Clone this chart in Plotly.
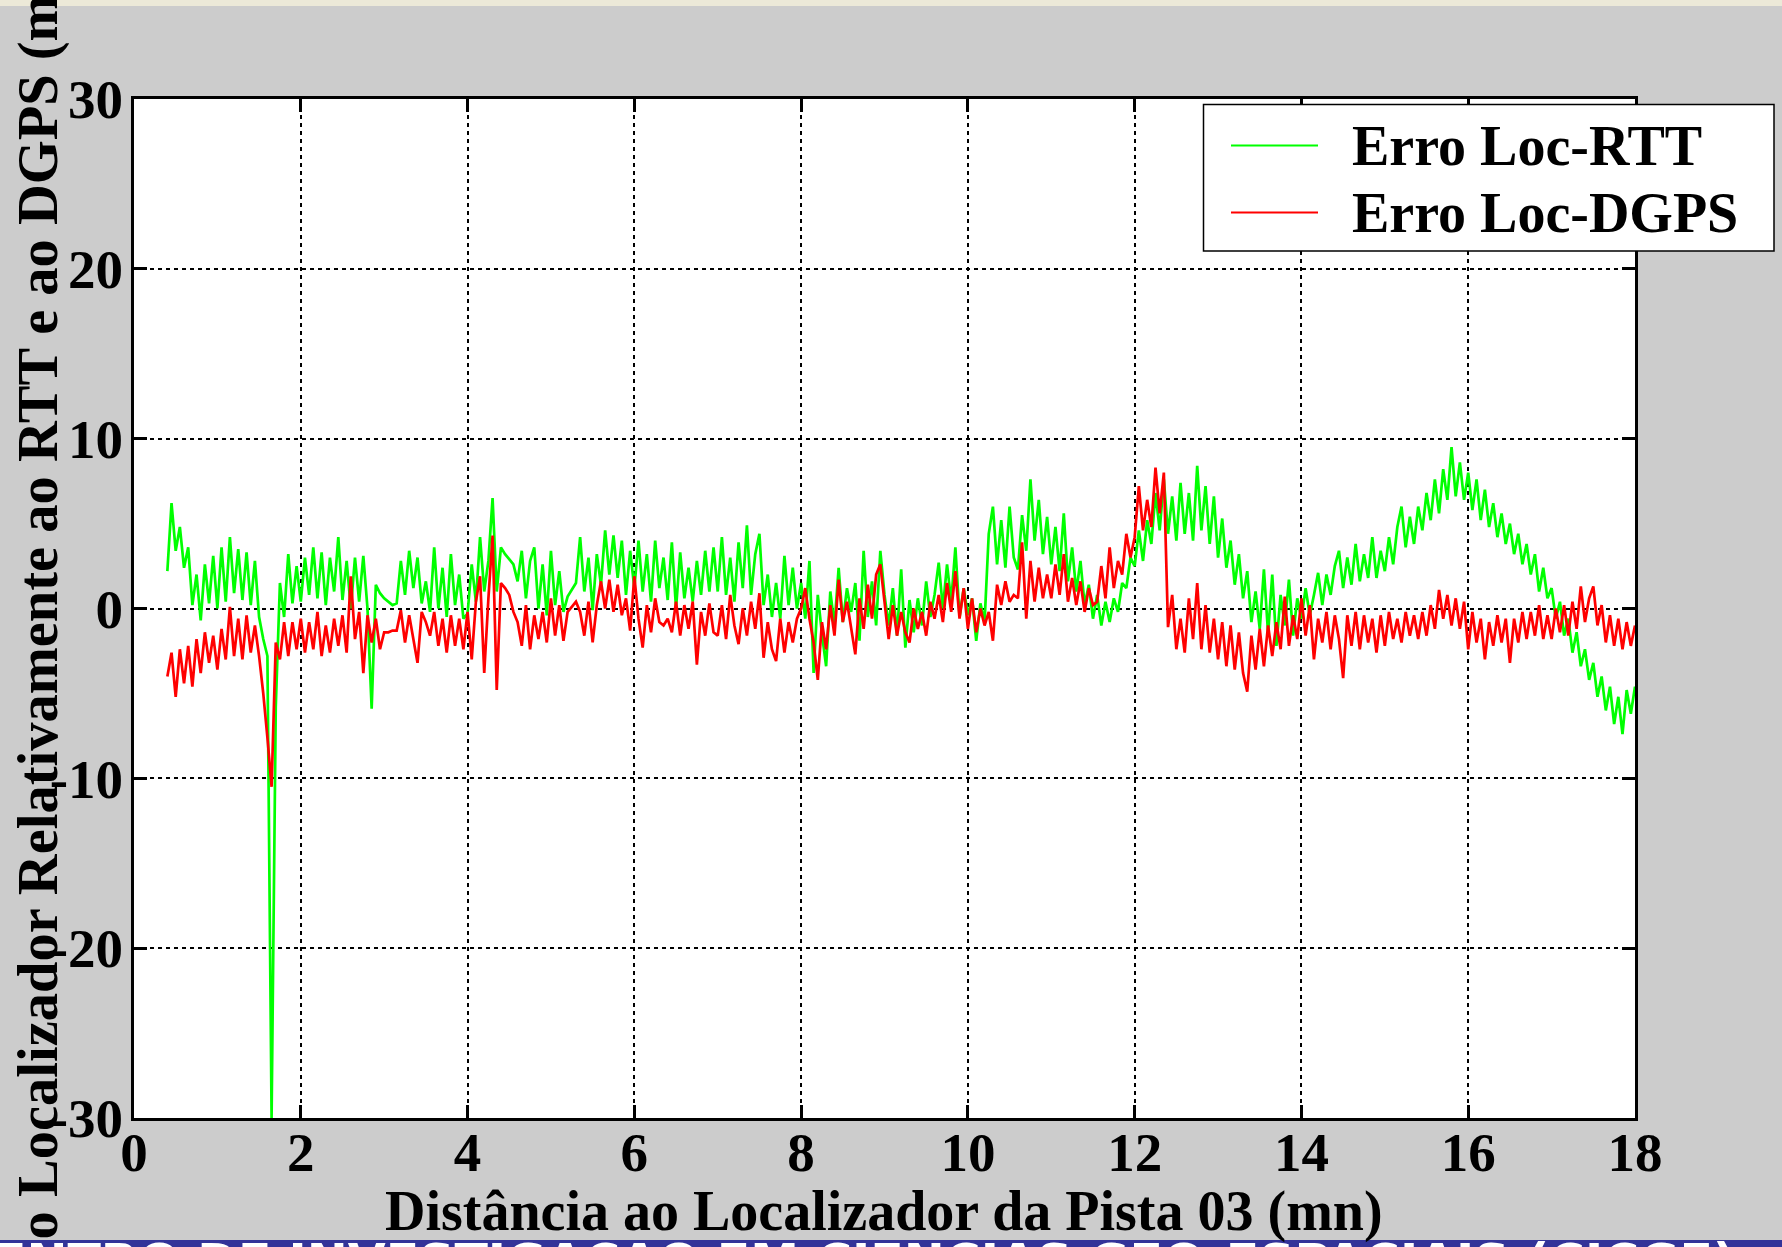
import plotly.graph_objects as go

# ---------------- data ----------------
dist_nm = [
    0.40, 0.45, 0.50, 0.55, 0.60, 0.65, 0.70, 0.75, 0.80, 0.85, 0.90, 0.95,
    1.00, 1.05, 1.10, 1.15, 1.20, 1.25, 1.30, 1.35, 1.40, 1.45, 1.50, 1.55, 1.60, 1.65, 1.70, 1.75, 1.80, 1.85, 1.90, 1.95,
    2.00, 2.05, 2.10, 2.15, 2.20, 2.25, 2.30, 2.35, 2.40, 2.45, 2.50, 2.55, 2.60, 2.65, 2.70, 2.75, 2.80, 2.85, 2.90, 2.95,
    3.00, 3.05, 3.10, 3.15, 3.20, 3.25, 3.30, 3.35, 3.40, 3.45, 3.50, 3.55, 3.60, 3.65, 3.70, 3.75, 3.80, 3.85, 3.90, 3.95,
    4.00, 4.05, 4.10, 4.15, 4.20, 4.25, 4.30, 4.35, 4.40, 4.45, 4.50, 4.55, 4.60, 4.65, 4.70, 4.75, 4.80, 4.85, 4.90, 4.95,
    5.00, 5.05, 5.10, 5.15, 5.20, 5.25, 5.30, 5.35, 5.40, 5.45, 5.50, 5.55, 5.60, 5.65, 5.70, 5.75, 5.80, 5.85, 5.90, 5.95,
    6.00, 6.05, 6.10, 6.15, 6.20, 6.25, 6.30, 6.35, 6.40, 6.45, 6.50, 6.55, 6.60, 6.65, 6.70, 6.75, 6.80, 6.85, 6.90, 6.95,
    7.00, 7.05, 7.10, 7.15, 7.20, 7.25, 7.30, 7.35, 7.40, 7.45, 7.50, 7.55, 7.60, 7.65, 7.70, 7.75, 7.80, 7.85, 7.90, 7.95,
    8.00, 8.05, 8.10, 8.15, 8.20, 8.25, 8.30, 8.35, 8.40, 8.45, 8.50, 8.55, 8.60, 8.65, 8.70, 8.75, 8.80, 8.85, 8.90, 8.95,
    9.00, 9.05, 9.10, 9.15, 9.20, 9.25, 9.30, 9.35, 9.40, 9.45, 9.50, 9.55, 9.60, 9.65, 9.70, 9.75, 9.80, 9.85, 9.90, 9.95,
    10.00, 10.05, 10.10, 10.15, 10.20, 10.25, 10.30, 10.35, 10.40, 10.45, 10.50, 10.55, 10.60, 10.65, 10.70, 10.75, 10.80, 10.85, 10.90, 10.95,
    11.00, 11.05, 11.10, 11.15, 11.20, 11.25, 11.30, 11.35, 11.40, 11.45, 11.50, 11.55, 11.60, 11.65, 11.70, 11.75, 11.80, 11.85, 11.90, 11.95,
    12.00, 12.05, 12.10, 12.15, 12.20, 12.25, 12.30, 12.35, 12.40, 12.45, 12.50, 12.55, 12.60, 12.65, 12.70, 12.75, 12.80, 12.85, 12.90, 12.95,
    13.00, 13.05, 13.10, 13.15, 13.20, 13.25, 13.30, 13.35, 13.40, 13.45, 13.50, 13.55, 13.60, 13.65, 13.70, 13.75, 13.80, 13.85, 13.90, 13.95,
    14.00, 14.05, 14.10, 14.15, 14.20, 14.25, 14.30, 14.35, 14.40, 14.45, 14.50, 14.55, 14.60, 14.65, 14.70, 14.75, 14.80, 14.85, 14.90, 14.95,
    15.00, 15.05, 15.10, 15.15, 15.20, 15.25, 15.30, 15.35, 15.40, 15.45, 15.50, 15.55, 15.60, 15.65, 15.70, 15.75, 15.80, 15.85, 15.90, 15.95,
    16.00, 16.05, 16.10, 16.15, 16.20, 16.25, 16.30, 16.35, 16.40, 16.45, 16.50, 16.55, 16.60, 16.65, 16.70, 16.75, 16.80, 16.85, 16.90, 16.95,
    17.00, 17.05, 17.10, 17.15, 17.20, 17.25, 17.30, 17.35, 17.40, 17.45, 17.50, 17.55, 17.60, 17.65, 17.70, 17.75, 17.80, 17.85, 17.90, 17.95,
    18.00,
]

erro_rtt = [
    2.2, 6.2, 3.4, 4.8, 2.4, 3.6, 0.2, 2.0, -0.7, 2.6, 0.3, 3.1,
    0.0, 3.6, 0.4, 4.2, 0.9, 3.5, 0.5, 3.3, 0.2, 2.8, -0.5, -1.8, -2.8, -30.0, -5.8, 1.5, -0.5, 3.2, 0.3, 2.5,
    0.4, 3.0, 0.8, 3.6, 0.6, 3.3, 0.2, 3.0, 1.0, 4.2, 0.5, 2.8, 0.0, 3.0, 0.4, 3.1, 0.0, -5.9, 1.4, 0.9,
    0.6, 0.4, 0.2, 0.3, 2.8, 0.8, 3.4, 1.2, 3.0, 0.3, 1.6, -0.2, 3.6, 0.0, 2.4, -0.5, 3.2, 0.2, 2.0, -0.6,
    -0.3, 2.6, 0.4, 4.2, 1.0, 2.8, 6.5, 1.0, 3.6, 3.2, 2.9, 2.6, 1.6, 3.4, 0.6, 2.8, 3.6, 0.0, 2.6, -0.4,
    3.4, 0.2, 2.2, -0.2, 0.7, 1.1, 1.5, 4.2, 1.0, 3.0, -0.1, 3.2, 1.4, 4.6, 2.0, 4.3, 1.8, 4.0, 0.8, 3.4,
    1.2, 4.0, 1.0, 3.2, 0.4, 4.0, 1.2, 3.0, 0.5, 3.9, 0.0, 3.3, 0.6, 2.4, 0.4, 2.8, 0.8, 3.4, 1.0, 3.6,
    1.0, 4.2, 0.8, 3.0, 0.4, 3.9, 1.2, 4.9, 0.8, 3.2, 4.4, 0.2, 2.0, -0.5, 1.5, -0.6, 3.1, 0.2, 2.4, 0.0,
    1.5, -0.6, 2.8, -3.8, 0.8, -1.5, -3.4, 1.0, -1.0, 2.4, -0.8, 1.2, -0.2, 1.5, -1.9, 3.4, -0.5, 1.6, -1.0, 3.4,
    0.8, -1.0, 1.2, -1.6, 2.3, -2.3, 0.5, -1.4, 0.6, -1.0, 1.6, -0.5, 0.8, 2.7, 0.0, 2.6, 0.4, 3.6, -0.5, 1.2,
    -0.4, 0.6, -1.9, 0.3, -0.8, 4.4, 6.0, 2.6, 5.2, 2.4, 6.0, 3.0, 2.3, 5.5, 3.4, 7.6, 4.0, 6.4, 3.2, 5.4,
    2.6, 4.8, 2.2, 5.6, 1.6, 3.6, 1.0, 2.8, 0.2, 1.4, -0.6, 0.8, -1.0, 0.4, -0.8, 0.6, -0.2, 1.5, 1.2, 3.0,
    2.5, 4.6, 2.8, 5.2, 3.8, 6.8, 4.6, 7.6, 4.4, 6.6, 4.0, 7.4, 4.4, 6.8, 4.0, 8.4, 4.6, 7.2, 3.8, 6.6,
    3.0, 5.3, 2.4, 4.0, 1.4, 3.2, 0.6, 2.2, -0.8, 1.0, -1.2, 2.3, -1.5, 2.0, -2.2, 0.8, -1.0, 1.7, -1.6, 0.6,
    -0.6, 1.2, -0.4, 0.8, 2.1, 0.2, 2.0, 0.8, 2.5, 3.4, 1.2, 3.0, 1.4, 3.8, 1.6, 3.2, 1.8, 4.2, 1.8, 3.4,
    2.2, 4.2, 2.6, 4.8, 6.0, 3.6, 5.4, 3.8, 6.0, 4.6, 6.8, 5.2, 7.6, 5.6, 8.2, 6.4, 9.5, 6.6, 8.6, 6.4,
    8.0, 5.8, 7.6, 5.2, 7.0, 4.8, 6.2, 4.2, 5.6, 3.8, 5.0, 3.2, 4.4, 2.6, 3.8, 2.0, 3.2, 1.0, 2.4, 0.6,
    1.2, -0.6, 0.4, -1.6, -0.6, -2.6, -1.4, -3.4, -2.4, -4.2, -3.2, -5.2, -4.0, -6.0, -4.6, -6.8, -5.2, -7.4, -4.8, -6.2,
    -4.6,
]

erro_dgps = [
    -4.0, -2.6, -5.2, -2.4, -4.4, -2.2, -4.6, -1.8, -3.8, -1.4, -3.2, -1.6,
    -3.6, -1.2, -3.0, 0.1, -2.8, -0.6, -3.0, -0.4, -2.6, -1.0, -2.8, -5.0, -7.6, -10.5, -2.0, -3.0, -0.8, -2.8, -0.8, -2.4,
    -0.6, -2.6, -0.8, -2.4, -0.2, -2.8, -1.0, -2.6, -0.6, -2.2, -0.4, -2.6, 1.9, -1.8, -0.2, -3.8, -0.4, -2.0, -0.6, -2.4,
    -1.4, -1.4, -1.3, -1.3, -0.1, -2.0, -0.4, -1.8, -3.2, -0.2, -0.8, -1.6, -0.2, -2.2, -0.6, -2.6, -0.4, -2.2, -0.6, -2.4,
    -0.2, -3.0, 0.4, 1.9, -3.8, 0.6, 4.3, -4.8, 1.5, 1.2, 0.8, -0.2, -0.8, -2.2, 0.2, -2.4, -0.4, -1.8, -0.2, -2.0,
    0.6, -1.6, 0.2, -1.9, -0.2, 0.1, 0.4, -0.2, -1.6, 0.4, -2.0, 0.2, 1.6, 0.0, 1.7, -0.2, 1.4, -0.4, 0.6, -1.3,
    1.9, -0.6, -2.3, 0.2, -1.4, 0.6, -0.8, -1.0, -0.6, -1.4, 0.4, -1.6, 0.2, -1.2, 0.4, -3.3, -0.2, -1.6, 0.3, -1.4,
    -1.6, 0.2, -1.8, 0.8, -1.0, -2.1, 0.0, -1.6, 0.4, -1.2, 0.9, -2.9, -0.8, -2.4, -3.1, -0.6, -2.6, -0.8, -2.0, -0.6,
    0.0, 1.2, -0.6, -2.0, -4.2, -0.8, -2.4, 0.2, -1.6, 1.7, -0.8, 0.4, -1.2, -2.7, 0.6, -1.2, 1.4, -0.6, 2.0, 2.6,
    0.4, -1.8, 0.2, -1.6, -0.2, -1.4, -2.0, 0.0, -1.2, -0.2, -1.6, 0.4, -0.6, 0.8, -0.8, 1.5, -0.2, 2.2, -0.6, 1.2,
    -1.2, 0.6, -1.4, 0.0, -1.0, -0.2, -1.9, 1.4, 0.2, 1.6, 0.4, 0.8, 0.6, 3.9, -0.6, 2.8, 0.4, 2.4, 0.6, 2.0,
    0.6, 2.6, 0.8, 3.2, 0.4, 1.8, 0.2, 1.6, -0.2, 1.2, 0.2, 0.4, 2.5, 0.6, 3.6, 1.2, 2.8, 2.0, 4.4, 3.0,
    4.2, 7.2, 4.6, 6.4, 4.8, 8.3, 5.6, 8.0, -1.1, 0.8, -2.4, -0.6, -2.6, 0.6, -1.8, 1.5, -2.4, 0.2, -2.6, -0.6,
    -3.0, -0.8, -3.4, -1.0, -3.6, -1.4, -3.8, -4.9, -1.6, -3.6, -1.2, -3.4, -1.0, -2.8, -0.8, -2.4, 0.7, -2.2, -0.4, -1.8,
    0.6, -1.6, 0.2, -3.0, -0.6, -2.0, -0.2, -2.4, -0.4, -1.8, -4.1, -0.4, -2.2, -0.2, -2.4, -0.4, -2.0, -0.6, -2.6, -0.4,
    -2.2, -0.2, -1.8, -0.6, -2.0, -0.2, -1.6, -0.4, -1.8, -0.2, -1.6, 0.2, -1.2, 1.1, -0.6, 0.8, -1.0, 0.6, -1.2, 0.4,
    -2.4, -0.2, -2.0, -0.6, -3.0, -0.8, -2.2, -0.4, -2.0, -0.6, -3.2, -0.6, -2.0, -0.2, -1.8, -0.2, -1.6, 0.2, -1.8, -0.4,
    -1.8, 0.0, -1.4, 0.2, -1.6, 0.4, -1.2, 1.3, -0.8, 0.6, 1.3, -1.0, 0.2, -2.0, -0.4, -2.2, -0.6, -2.4, -0.8, -2.2,
    -1.0,
]

assert len(dist_nm) == len(erro_rtt) == len(erro_dgps), (len(dist_nm), len(erro_rtt), len(erro_dgps))

x_tick_vals = [0, 2, 4, 6, 8, 10, 12, 14, 16, 18]
x_tick_text = ["0", "2", "4", "6", "8", "10", "12", "14", "16", "18"]
y_tick_vals = [-30, -20, -10, 0, 10, 20, 30]
y_tick_text = ["-30", "-20", "-10", "0", "10", "20", "30"]

series_names = ["Erro Loc-RTT", "Erro Loc-DGPS"]
series_colors = ["#00ff00", "#ff0000"]

x_title = "Distância ao Localizador da Pista 03 (mn)"
y_title = "Erro do Localizador Relativamente ao RTT e ao DGPS (m)"
banner_text = "CENTRO DE INVESTIGAÇÃO EM CIÊNCIAS GEO-ESPACIAIS (CICGE)"

# ---------------- layout geometry ----------------
W, H = 1782, 1247
L, R, T, B = 134, 1635, 99, 1118


def px_x(p):
    return (p - L) / (R - L)


def px_y(p):
    return (B - p) / (B - T)


SERIF = "Liberation Serif"
BANNER_BLUE = "#333399"
PAGE_GRAY = "#cccccc"

fig = go.Figure()
for yv, nm, col in zip([erro_rtt, erro_dgps], series_names, series_colors):
    fig.add_trace(go.Scatter(
        x=dist_nm, y=yv, mode="lines", name=nm,
        line=dict(color=col, width=2.7), showlegend=False,
    ))

axis_common = dict(
    showgrid=True, gridcolor="black", gridwidth=1.8, griddash="4px,4px",
    showline=True, linecolor="black", linewidth=3, mirror="ticks",
    ticks="inside", ticklen=13, tickwidth=3, tickcolor="black",
    zeroline=False,
    tickfont=dict(family=SERIF, size=55, color="black", weight="bold"),
)

fig.update_xaxes(range=[0, 18], tickvals=x_tick_vals, ticktext=x_tick_text,
                 ticklabelstandoff=-16, **axis_common)
fig.update_yaxes(range=[-30, 30], tickvals=y_tick_vals, ticktext=y_tick_text,
                 ticklabelstandoff=-3, **axis_common)

shapes = [
    # thin beige strip at top of page
    dict(type="rect", xref="paper", yref="paper", x0=px_x(0), x1=px_x(W),
         y0=px_y(6), y1=px_y(0), fillcolor="#ece9d8", line=dict(width=0), layer="below"),
    # legend box
    dict(type="rect", xref="paper", yref="paper", x0=px_x(1203.5), x1=px_x(1774),
         y0=px_y(251), y1=px_y(104.5), fillcolor="white",
         line=dict(color="black", width=1.5), layer="above"),
    dict(type="line", xref="paper", yref="paper", x0=px_x(1231), x1=px_x(1318),
         y0=px_y(145.5), y1=px_y(145.5), line=dict(color=series_colors[0], width=2), layer="above"),
    dict(type="line", xref="paper", yref="paper", x0=px_x(1231), x1=px_x(1318),
         y0=px_y(212.5), y1=px_y(212.5), line=dict(color=series_colors[1], width=2), layer="above"),
]

annotations = [
    dict(text=series_names[0], xref="paper", yref="paper", x=px_x(1350), y=px_y(146),
         xanchor="left", yanchor="middle", showarrow=False,
         font=dict(family=SERIF, size=56, color="black", weight="bold")),
    dict(text=series_names[1], xref="paper", yref="paper", x=px_x(1350), y=px_y(213),
         xanchor="left", yanchor="middle", showarrow=False,
         font=dict(family=SERIF, size=56, color="black", weight="bold")),
    # y-axis title (partly hidden by the banner, as in the reference)
    dict(text=y_title, xref="paper", yref="paper", x=px_x(38), y=px_y(688),
         xanchor="center", yanchor="middle", showarrow=False, textangle=-90,
         font=dict(family=SERIF, size=56.5, color="black", weight="bold")),
    # blue banner box at the bottom
    dict(text=" ", xref="paper", yref="paper", x=px_x(-10), y=px_y(1240),
         xanchor="left", yanchor="top", showarrow=False,
         width=W + 40, height=60, bgcolor=BANNER_BLUE, borderpad=0, borderwidth=0,
         font=dict(size=10, color=BANNER_BLUE)),
    # banner text: only the top of the capitals shows, the rest runs off the page
    dict(text=banner_text, xref="paper", yref="paper", x=px_x(-45), y=px_y(1230),
         xanchor="left", yanchor="top", showarrow=False,
         font=dict(family="DejaVu Sans", size=49, color="white", weight="bold")),
    # gray patches hide the accents that would rise above the banner
    dict(text=" ", xref="paper", yref="paper", x=px_x(602), y=px_y(1239.5),
         xanchor="left", yanchor="bottom", showarrow=False,
         width=60, height=16, bgcolor=PAGE_GRAY, borderpad=0, borderwidth=0,
         font=dict(size=10, color=PAGE_GRAY)),
    dict(text=" ", xref="paper", yref="paper", x=px_x(852), y=px_y(1239.5),
         xanchor="left", yanchor="bottom", showarrow=False,
         width=60, height=16, bgcolor=PAGE_GRAY, borderpad=0, borderwidth=0,
         font=dict(size=10, color=PAGE_GRAY)),
    # x-axis title (drawn last)
    dict(text=x_title, xref="paper", yref="paper", x=px_x(884), y=px_y(1211),
         xanchor="center", yanchor="middle", showarrow=False,
         font=dict(family=SERIF, size=56, color="black", weight="bold")),
]

fig.update_layout(
    width=W, height=H,
    margin=dict(l=L, r=W - R, t=T, b=H - B, pad=0, autoexpand=False),
    paper_bgcolor=PAGE_GRAY, plot_bgcolor="white",
    showlegend=False,
    font=dict(family=SERIF, color="black"),
    shapes=shapes, annotations=annotations,
)

fig.write_html("out.html")
